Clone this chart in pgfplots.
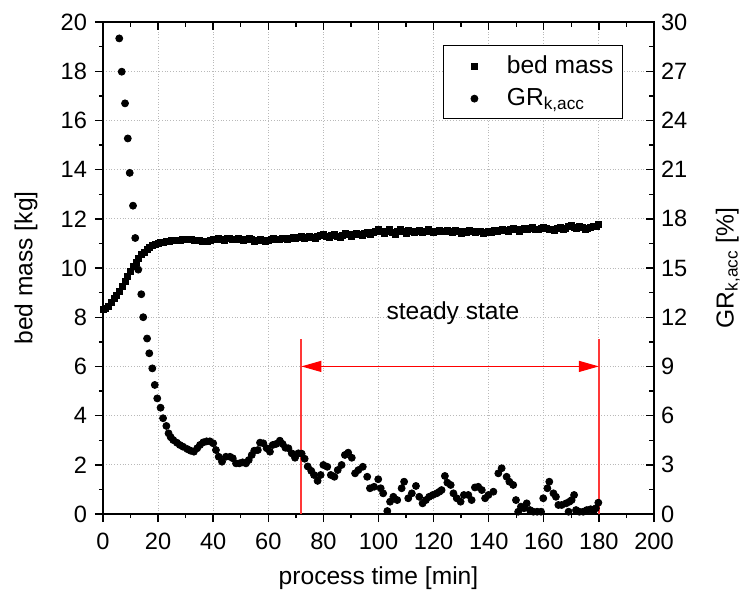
\documentclass[border=0pt]{standalone}
\usepackage{pgfplots}
\pgfplotsset{compat=1.18}
\usepackage{fontspec}
\setmainfont{Liberation Sans}
\usetikzlibrary{arrows.meta}
\definecolor{vred}{rgb}{1,0.22,0.22}
\newcommand{\tickfont}{\fontsize{11.8}{13}\selectfont}
\newcommand{\labfont}{\fontsize{12.3}{14}\selectfont}
\begin{document}
\begin{tikzpicture}
\begin{axis}[
  at={(0,0)}, anchor=south west,
  scale only axis, width=275.5pt, height=246pt,
  xmin=0, xmax=200, ymin=0, ymax=20,
  xtick={0,20,...,200}, ytick={0,2,...,20},
  minor x tick num=1, minor y tick num=1,
  xtick pos=left, ytick pos=left,
  tick align=outside,
  major tick length=4pt, minor tick length=2pt,
  axis line style={line width=0.8pt},
  every tick/.style={black, line width=0.7pt},
  grid=major, grid style={densely dotted, gray!55, line width=0.5pt},
  /pgf/number format/assume math mode=true,
  ticklabel style={font=\tickfont},
  xticklabel style={yshift=-2pt},
  yticklabel style={xshift=-0.5pt},
  xlabel={process time [min]}, ylabel={bed mass [kg]},
  every axis x label/.style={at={(axis description cs:0.5,-0.130)}, anchor=center, font=\labfont},
  every axis y label/.style={at={(axis description cs:-0.1397,0.5)}, anchor=center, rotate=90, font=\labfont},
  legend style={at={(0.944,0.953)}, anchor=north east, draw=black, line width=0.6pt,
    font=\labfont, inner xsep=2.5pt, inner ysep=3pt, row sep=2pt},
  legend cell align=left,
  legend image code/.code={\path[draw=none] (0,0) -- (0.95cm,0); \draw[#1, line width=0.4pt] plot[only marks] coordinates {(0.45cm,0cm)};},
]
\addplot[only marks, mark=square*, mark size=1.5pt, black] coordinates {
(0,8.30)(1,8.35)(2,8.45)(3,8.60)(4,8.75)(5,8.90)(6,9.05)(7,9.25)(8,9.45)(9,9.65)
(10,9.85)(11,10.05)(12,10.22)(13,10.40)(14,10.54)(15,10.65)(16,10.74)(17,10.83)(18,10.90)(19,10.96)
(20,11.00)(21,11.04)(22,11.06)(23,11.08)(24,11.10)(25,11.11)(26,11.12)(27,11.13)(28,11.14)(29,11.15)
(30,11.15)(31,11.16)(32,11.15)(33,11.14)(34,11.13)(35,11.12)(36,11.10)(37,11.09)(38,11.10)(39,11.12)
(40,11.15)(41,11.18)(42,11.20)(43,11.17)(44,11.14)(45,11.20)(46,11.22)(47,11.18)(48,11.16)(49,11.20)
(50,11.18)(51,11.12)(52,11.15)(53,11.20)(54,11.16)(55,11.10)(56,11.13)(57,11.18)(58,11.14)(59,11.08)
(60,11.12)(61,11.16)(62,11.20)(63,11.15)(64,11.18)(65,11.22)(66,11.20)(67,11.16)(68,11.22)(69,11.25)
(70,11.20)(71,11.24)(72,11.28)(73,11.22)(74,11.26)(75,11.30)(76,11.25)(77,11.22)(78,11.28)(79,11.32)
(80,11.35)(81,11.30)(82,11.26)(83,11.32)(84,11.38)(85,11.30)(86,11.25)(87,11.33)(88,11.40)(89,11.36)
(90,11.30)(91,11.35)(92,11.42)(93,11.38)(94,11.32)(95,11.40)(96,11.45)(97,11.38)(98,11.44)(99,11.50)
(100,11.56)(101,11.50)(102,11.42)(103,11.48)(104,11.55)(105,11.45)(106,11.38)(107,11.50)(108,11.56)(109,11.48)
(110,11.42)(111,11.52)(112,11.48)(113,11.44)(114,11.50)(115,11.53)(116,11.46)(117,11.50)(118,11.55)(119,11.48)
(120,11.44)(121,11.50)(122,11.53)(123,11.47)(124,11.50)(125,11.54)(126,11.49)(127,11.45)(128,11.52)(129,11.48)
(130,11.42)(131,11.50)(132,11.46)(133,11.52)(134,11.48)(135,11.44)(136,11.50)(137,11.47)(138,11.40)(139,11.45)
(140,11.50)(141,11.46)(142,11.52)(143,11.48)(144,11.54)(145,11.58)(146,11.52)(147,11.48)(148,11.55)(149,11.60)
(150,11.56)(151,11.50)(152,11.58)(153,11.62)(154,11.55)(155,11.60)(156,11.64)(157,11.58)(158,11.55)(159,11.62)
(160,11.66)(161,11.60)(162,11.55)(163,11.58)(164,11.52)(165,11.60)(166,11.65)(167,11.58)(168,11.62)(169,11.68)
(170,11.74)(171,11.66)(172,11.60)(173,11.68)(174,11.64)(175,11.58)(176,11.62)(177,11.66)(178,11.70)(179,11.68)
(180,11.76)
};
\addlegendentry{bed mass}
\addlegendimage{only marks, mark=*, mark size=1.75pt, black}
\addlegendentry{GR\textsubscript{k,acc}}
\draw[vred, line width=1pt] (axis cs:72,0) -- (axis cs:72,7.1);
\draw[vred, line width=1pt] (axis cs:180,0) -- (axis cs:180,7.1);
\draw[red, line width=0.6pt, {Triangle[length=10pt,width=5.5pt]}-{Triangle[length=10pt,width=5.5pt]}] (axis cs:72,6) -- (axis cs:180,6);
\node[font=\labfont] at (axis cs:127,8.17) {steady state};
\end{axis}
\begin{axis}[
  at={(0,0)}, anchor=south west,
  scale only axis, width=275.5pt, height=246pt,
  xmin=0, xmax=200, ymin=0, ymax=30,
  axis y line*=right, axis x line*=top,
  xtick={0,20,...,200}, xticklabels={},
  ytick={0,3,...,30},
  minor x tick num=1, minor y tick num=1,
  tick align=inside,
  major tick length=4pt, minor tick length=2.5pt,
  axis line style={line width=0.8pt, -},
  every tick/.style={black, line width=0.7pt},
  /pgf/number format/assume math mode=true,
  ticklabel style={font=\tickfont},
  ylabel={GR\textsubscript{k,acc} [\%]},
  every axis y label/.style={at={(axis description cs:1.134,0.5)}, anchor=center, rotate=90, font=\labfont},
]
\addplot[only marks, mark=*, mark size=1.75pt, black] coordinates {
(5.9,29.0)(6.8,26.97)(8.0,25.04)(9.0,22.9)(9.7,20.8)(10.9,18.8)(11.7,16.83)(12.8,14.9)(13.9,13.4)(14.6,12.0)
(16.0,10.7)(16.8,9.8)(17.9,8.88)(18.8,7.87)(19.7,7.05)(20.9,6.48)(21.8,5.84)(23.0,5.37)(23.8,4.92)(24.6,4.68)
(25.5,4.51)(26.8,4.35)(27.9,4.21)(29.1,4.10)(30.6,3.96)(31.8,3.86)(33.0,3.80)(34.2,4.01)(35.2,4.21)(36.4,4.37)
(37.6,4.43)(38.8,4.43)(40.0,4.31)(41.0,3.90)(42.0,3.49)(43.2,3.19)(44.6,3.49)(46.1,3.49)(47.1,3.40)(48.3,3.09)
(49.5,3.09)(50.7,3.15)(51.9,3.09)(52.9,3.29)(54.0,3.60)(54.9,3.86)(56.2,3.90)(57.0,4.35)(58.2,4.31)(59.4,4.01)
(60.6,3.80)(61.6,4.21)(62.8,4.27)(64.2,4.47)(65.2,4.27)(66.2,4.04)(67.3,4.01)(68.5,3.70)(69.7,3.43)(70.9,3.70)
(72.1,3.68)(73.2,3.37)(74.3,2.90)(75.6,2.63)(76.6,2.38)(77.9,2.02)(79.0,2.38)(80.0,2.99)(81.4,2.88)(82.7,2.38)
(84.0,2.27)(85.2,2.68)(86.6,2.99)(87.8,3.60)(89.0,3.74)(90.3,3.43)(91.5,2.48)(92.7,2.68)(94.3,2.88)(95.9,2.27)
(96.9,1.57)(98.4,1.66)(99.9,2.12)(100.8,1.57)(101.7,1.26)(103.2,0.18)(104.2,0.75)(105.4,1.05)(106.8,0.85)(108.4,1.57)
(109.3,1.97)(110.8,0.96)(112.1,1.26)(113.6,1.71)(114.8,1.05)(116.0,0.65)(117.2,0.85)(118.4,1.05)(119.7,1.16)(121.1,1.26)
(122.1,1.36)(122.9,1.46)(124.1,2.32)(125.0,1.91)(126.2,1.77)(127.2,1.26)(128.4,0.96)(129.8,0.75)(131.0,1.16)(132.6,1.16)
(133.8,0.85)(135.0,1.62)(136.2,1.66)(137.5,1.46)(138.7,0.96)(139.9,1.16)(141.7,1.36)(143.5,2.48)(144.7,2.79)(146.5,2.27)
(147.5,1.97)(148.9,1.77)(149.9,0.85)(150.7,0.14)(151.7,0.45)(152.8,0.35)(153.8,0.65)(155.0,0.24)(156.2,0.14)(157.6,0.14)
(159.0,0.14)(159.8,0.96)(161.3,1.57)(162.0,1.97)(163.5,1.26)(164.4,1.05)(165.3,0.55)(166.5,0.55)(168.1,0.65)(169.0,0.14)
(169.3,0.75)(170.1,0.85)(171.0,1.16)(171.7,0.24)(172.9,0.14)(174.3,0.14)(175.6,0.24)(177.0,0.29)(178.2,0.24)(178.9,0.35)
(179.8,0.69)
};
\end{axis}
\pgfresetboundingbox
\path[use as bounding box] (-51.5pt,-44pt) rectangle (321pt,257pt);
\end{tikzpicture}
\end{document}
